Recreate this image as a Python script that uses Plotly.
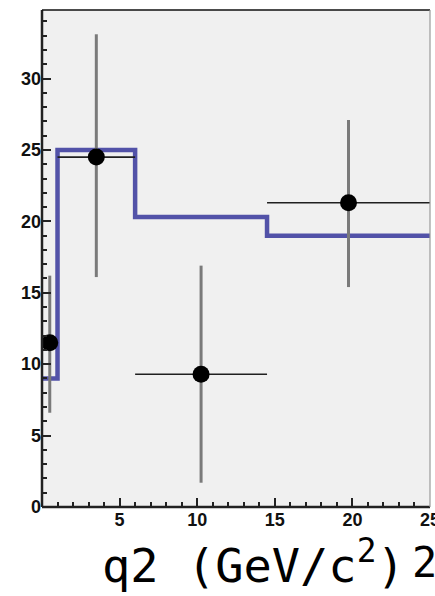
import plotly.graph_objects as go

# Measured points: bin centres, values and asymmetric errors
q2_centres = [0.5, 3.5, 10.25, 19.75]
q2_half_width = [0.5, 2.5, 4.25, 5.25]
counts = [11.5, 24.5, 9.3, 21.3]
err_up = [4.7, 8.6, 7.6, 5.8]
err_down = [4.9, 8.4, 7.6, 5.9]

# Expected distribution as a step histogram
bin_edges = [0, 1, 6, 14.5, 25]
expected = [9.0, 25.0, 20.3, 19.0]

x_ticks = [5, 10, 15, 20, 25]
y_ticks = [0, 5, 10, 15, 20, 25, 30]

fig = go.Figure()

fig.add_trace(go.Scatter(
    x=bin_edges,
    y=expected + [expected[-1]],
    mode="lines",
    line=dict(shape="hv", color="#5252a8", width=4.5),
    hoverinfo="skip",
))

fig.add_trace(go.Scatter(
    x=q2_centres,
    y=counts,
    mode="markers",
    marker=dict(color="black", size=17),
    error_x=dict(type="data", array=q2_half_width, symmetric=True,
                 color="#202020", thickness=1.6, width=0),
    error_y=dict(type="data", array=err_up, arrayminus=err_down,
                 symmetric=False, color="#7a7a7a", thickness=3, width=0),
))

tick_font = dict(family="Liberation Sans", size=18, color="#111", weight=700)

title_font = dict(family="DejaVu Sans Mono, monospace", size=47, color="black")
power_font = dict(family="DejaVu Sans Mono, monospace", size=42, color="black")

fig.update_layout(
    width=435, height=596,
    margin=dict(l=42, r=5, t=10, b=89, autoexpand=False),
    paper_bgcolor="white",
    plot_bgcolor="#f0f0f0",
    showlegend=False,
    xaxis=dict(
        range=[0, 25], tickvals=x_ticks, ticks="inside", ticklen=9,
        tickwidth=1.5, tickcolor="#222", showgrid=False, zeroline=False,
        showline=False, tickfont=tick_font, ticklabeloverflow="allow",
        automargin=False,
        minor=dict(dtick=1, ticks="inside", ticklen=5, tickwidth=1.5,
                   tickcolor="#222", showgrid=False),
    ),
    yaxis=dict(
        range=[0, 34.8], tickvals=y_ticks, ticks="inside", ticklen=9,
        tickwidth=1.5, tickcolor="#222", showgrid=False, zeroline=False,
        showline=False, tickfont=tick_font, ticklabeloverflow="allow",
        automargin=False,
        minor=dict(dtick=1, ticks="inside", ticklen=5, tickwidth=1.5,
                   tickcolor="#222", showgrid=False),
    ),
    shapes=[
        dict(type="line", xref="paper", yref="paper", x0=0, x1=0, y0=0, y1=1,
             line=dict(color="#222", width=2.5)),
        dict(type="line", xref="paper", yref="paper", x0=0, x1=1, y0=0, y1=0,
             line=dict(color="#222", width=2.5)),
        dict(type="line", xref="paper", yref="paper", x0=0, x1=1, y0=1, y1=1,
             line=dict(color="#111", width=1.5)),
        dict(type="line", xref="paper", yref="paper", x0=1, x1=1, y0=0, y1=1,
             line=dict(color="#999", width=1.2)),
    ],
    annotations=[
        dict(text="q2 (GeV/c<sup>2</sup>)", xref="paper", yref="paper",
             x=0, y=0, xanchor="left", yanchor="top", xshift=58, yshift=-22,
             showarrow=False, font=title_font),
        dict(text="2", xref="paper", yref="paper",
             x=0, y=0, xanchor="left", yanchor="top", xshift=368, yshift=-29,
             showarrow=False, font=power_font),
    ],
)

fig.write_html("out.html")
